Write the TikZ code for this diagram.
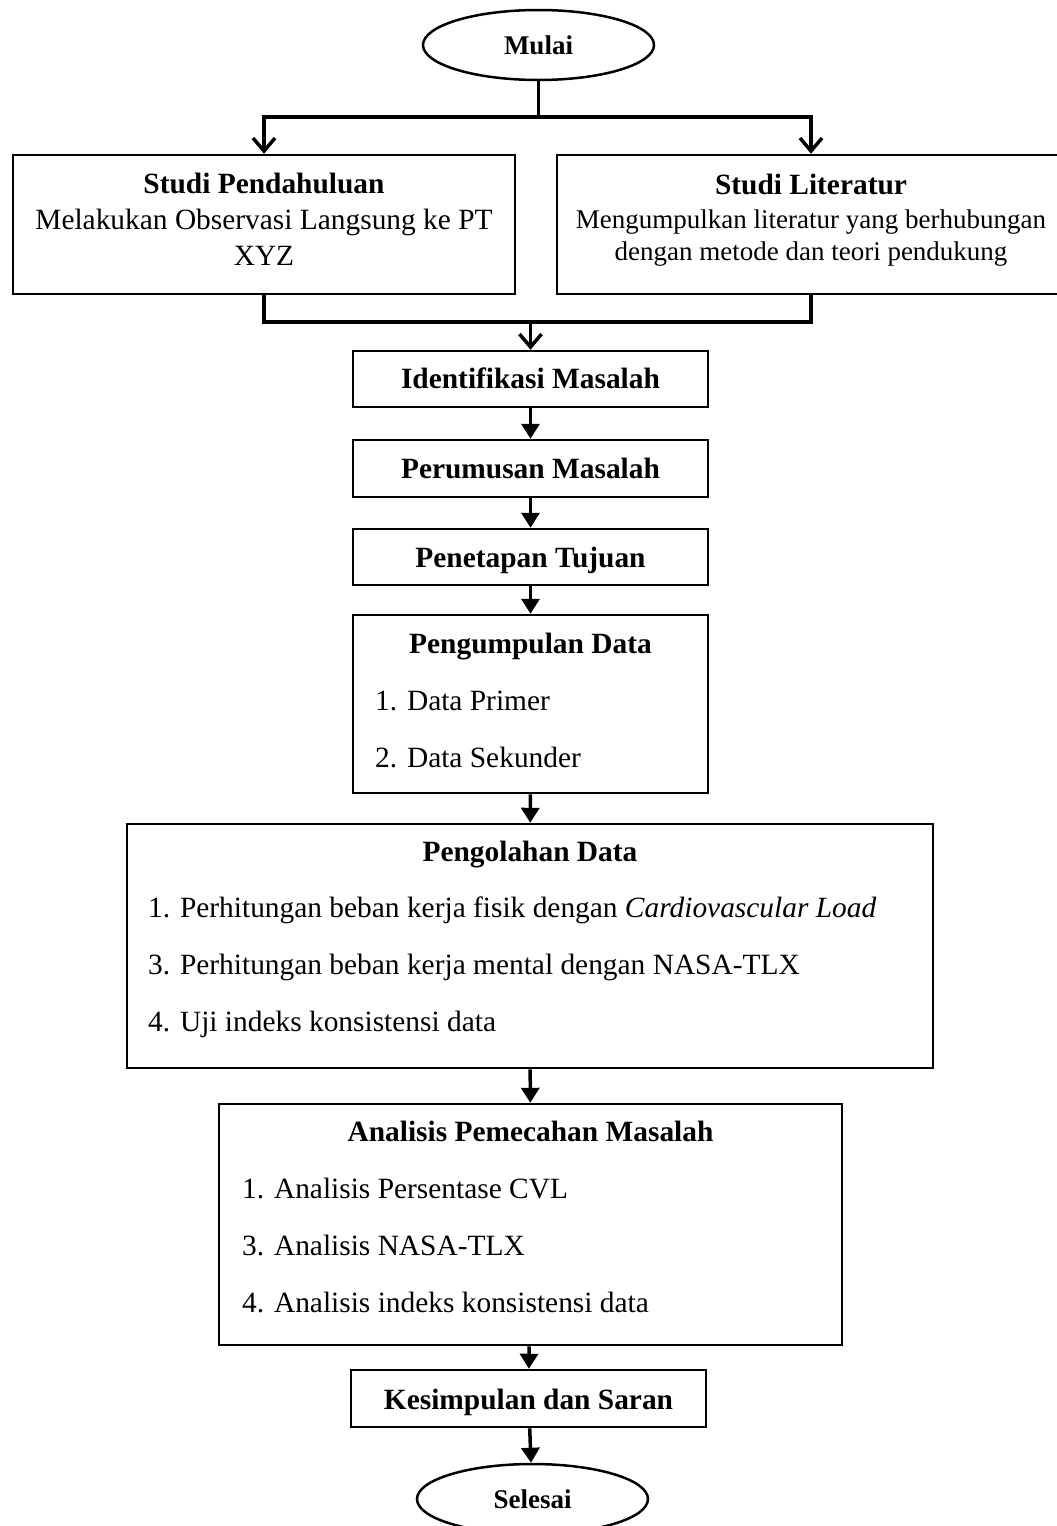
\documentclass[tikz,border=0pt]{standalone}
\usepackage{fontspec}
\setmainfont{Liberation Serif}
\usetikzlibrary{arrows.meta,shapes.geometric,fit}
\newcommand\fsbig{\fontsize{29.4}{35}\selectfont}
\newcommand\fsmed{\fontsize{27}{32}\selectfont}
\begin{document}
\begin{tikzpicture}[x=1pt,y=-1pt,
  box/.style={draw, line width=2.5pt, inner sep=0pt},
  term/.style={draw, ellipse, line width=2.5pt, inner sep=0pt, minimum width=231pt, minimum height=70pt, font=\fsmed\bfseries},
  conn/.style={line width=3.5pt, -{Triangle[length=15pt,width=18pt]}},
  vconn/.style={line width=3.5pt, -{Straight Barb[length=13pt,width=22pt]}},
  plain/.style={line width=3.5pt},
  bar/.style={line width=4pt, line cap=rect},
  ttl/.style={font=\fsbig\bfseries, inner sep=0pt, anchor=base},
  ctr/.style={font=\fsbig, inner sep=0pt, anchor=base},
  ctrs/.style={font=\fsmed, inner sep=0pt, anchor=base},
  item/.style={font=\fsbig, inner sep=0pt, anchor=base west},
]
\useasboundingbox (0,0) rectangle (1057,1526);
\node[term] (mulai) at (538.5,45) {Mulai};
\node[box, fit={(13,155) (515,294)}] (sp) {};
\node[box, fit={(557,155) (1065,294)}] (sl) {};
\node[ttl] (spt) at (264,193) {Studi Pendahuluan};
\node[ctr] (sp1) at (264,229) {Melakukan Observasi Langsung ke PT};
\node[ctr] (sp2) at (264,265) {XYZ};
\node[ttl] (slt) at (811,194) {Studi Literatur};
\node[ctrs] (sl1) at (811,228) {Mengumpulkan literatur yang berhubungan};
\node[ctrs] (sl2) at (811,260) {dengan metode dan teori pendukung};
\node[box, fit={(353,351) (708,407)}] (idm) {};
\node[ttl] (idmt) at (530.5,388) {Identifikasi Masalah};
\node[box, fit={(353,440) (708,497)}] (pm) {};
\node[ttl] (pmt) at (530.5,478) {Perumusan Masalah};
\node[box, fit={(353,529) (708,585)}] (tj) {};
\node[ttl] (tjt) at (530.5,567) {Penetapan Tujuan};
\node[box, fit={(353,615) (708,793)}] (pd) {};
\node[ttl] (pdt) at (530.5,653) {Pengumpulan Data};
\node[item] (pd1) at (375,710) {1. Data Primer};
\node[item] (pd2) at (375,767) {2. Data Sekunder};
\node[box, fit={(127,824) (933,1068)}] (ol) {};
\node[ttl] (olt) at (530,861) {Pengolahan Data};
\node[item] (ol1) at (148,917) {1. Perhitungan beban kerja fisik dengan \textit{Cardiovascular Load}};
\node[item] (ol2) at (148,974) {3. Perhitungan beban kerja mental dengan NASA-TLX};
\node[item] (ol3) at (148,1031) {4. Uji indeks konsistensi data};
\node[box, fit={(219,1104) (842,1345)}] (an) {};
\node[ttl] (ant) at (530.5,1141) {Analisis Pemecahan Masalah};
\node[item] (an1) at (242,1198) {1. Analisis Persentase CVL};
\node[item] (an2) at (242,1255) {3. Analisis NASA-TLX};
\node[item] (an3) at (242,1312) {4. Analisis indeks konsistensi data};
\node[box, fit={(351,1370) (706,1427)}] (ks) {};
\node[ttl] (kst) at (528.5,1409) {Kesimpulan dan Saran};
\node[term] (sel) at (532.5,1499) {Selesai};
\coordinate (tl) at (264,117);
\coordinate (tr) at (811,117);
\coordinate (bl) at (264,322);
\coordinate (br) at (811,322);
\draw[plain] (mulai.south) -- (mulai.south |- tl);
\draw[bar] (tl) -- (tr);
\draw[vconn] (tl) -- (sp.north -| tl);
\draw[vconn] (tr) -- (sl.north -| tr);
\draw[plain] (sp.south -| bl) -- (bl);
\draw[plain] (sl.south -| br) -- (br);
\draw[bar] (bl) -- (br);
\draw[vconn] (idm.north |- bl) -- (idm.north);
\draw[conn] (idm) -- (pm);
\draw[conn] (pm) -- (tj);
\draw[conn] (tj) -- (pd);
\draw[conn] (pd) -- (ol);
\draw[conn] (ol) -- (an);
\draw[conn] (an) -- (ks);
\draw[conn] (ks) -- (sel);
\end{tikzpicture}
\end{document}
